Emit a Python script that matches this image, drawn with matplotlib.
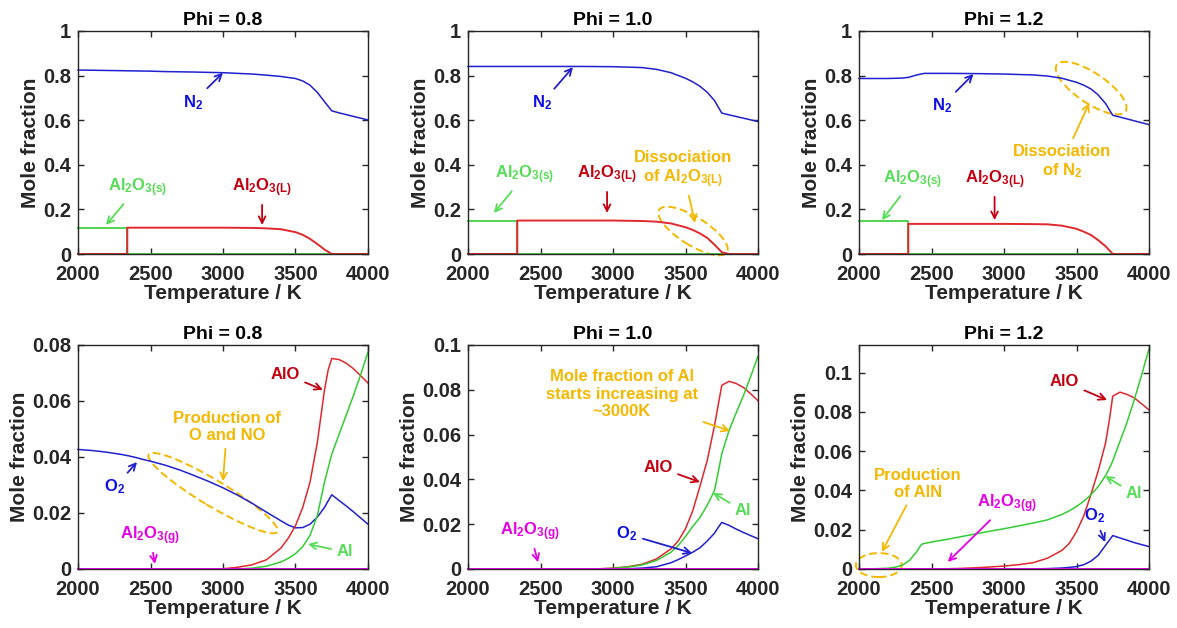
import matplotlib
matplotlib.use("Agg")
import matplotlib.pyplot as plt
from matplotlib.patches import Ellipse
from matplotlib.transforms import ScaledTranslation
from matplotlib.ticker import FormatStrFormatter

plt.rcParams['font.family'] = ['Liberation Sans', 'DejaVu Sans']
plt.rcParams['font.weight'] = 'bold'
plt.rcParams['mathtext.fontset'] = 'custom'
plt.rcParams['mathtext.rm'] = 'Liberation Sans:bold'
plt.rcParams['mathtext.it'] = 'Liberation Sans:bold'
plt.rcParams['mathtext.bf'] = 'Liberation Sans:bold'

# ---------------- data: top row (major species) ----------------
T_top = [2000, 2100, 2200, 2300, 2340, 2340, 2400, 2450, 2500, 2600, 2800, 3000,
         3200, 3300, 3400, 3500, 3550, 3600, 3650, 3700, 3750, 3800, 3900, 4000]

n2_08 = [0.825, 0.824, 0.823, 0.822, 0.8215, 0.8215, 0.821, 0.8205, 0.820, 0.818, 0.816, 0.813,
         0.807, 0.802, 0.796, 0.787, 0.776, 0.757, 0.725, 0.683, 0.642, 0.633, 0.617, 0.601]
al2o3s_08 = [0.118, 0.118, 0.118, 0.118, 0.118, 0, 0, 0, 0, 0, 0, 0,
             0, 0, 0, 0, 0, 0, 0, 0, 0, 0, 0, 0]
al2o3l_08 = [0, 0, 0, 0, 0, 0.118, 0.118, 0.118, 0.118, 0.118, 0.118, 0.118,
             0.117, 0.115, 0.111, 0.098, 0.086, 0.068, 0.045, 0.02, 0, 0, 0, 0]

n2_10 = [0.841, 0.841, 0.841, 0.841, 0.841, 0.841, 0.841, 0.841, 0.841, 0.841, 0.841, 0.840,
         0.836, 0.828, 0.813, 0.788, 0.772, 0.752, 0.725, 0.688, 0.632, 0.624, 0.609, 0.594]
al2o3s_10 = [0.150, 0.150, 0.150, 0.150, 0.150, 0, 0, 0, 0, 0, 0, 0,
             0, 0, 0, 0, 0, 0, 0, 0, 0, 0, 0, 0]
al2o3l_10 = [0, 0, 0, 0, 0, 0.150, 0.150, 0.150, 0.150, 0.150, 0.150, 0.150,
             0.148, 0.145, 0.137, 0.120, 0.108, 0.092, 0.072, 0.042, 0.008, 0, 0, 0]

n2_12 = [0.787, 0.787, 0.787, 0.789, 0.792, 0.792, 0.803, 0.810, 0.810, 0.810, 0.809, 0.807,
         0.803, 0.798, 0.788, 0.770, 0.757, 0.740, 0.713, 0.675, 0.622, 0.614, 0.597, 0.580]
al2o3s_12 = [0.147, 0.147, 0.147, 0.147, 0.147, 0, 0, 0, 0, 0, 0, 0,
             0, 0, 0, 0, 0, 0, 0, 0, 0, 0, 0, 0]
al2o3l_12 = [0, 0, 0, 0, 0, 0.135, 0.135, 0.135, 0.135, 0.135, 0.135, 0.135,
             0.134, 0.133, 0.127, 0.113, 0.100, 0.085, 0.062, 0.035, 0, 0, 0, 0]

# ---------------- data: bottom row (minor species) ----------------
T_bot = [2000, 2100, 2200, 2250, 2300, 2350, 2400, 2430, 2450, 2500, 2600, 2700, 2800, 2900,
         3000, 3100, 3200, 3300, 3400, 3450, 3500, 3550, 3600, 3650, 3700, 3725, 3750,
         3800, 3850, 3900, 3950, 4000]

o2_08 = [0.0427, 0.0423, 0.0417, 0.0413, 0.0409, 0.0404, 0.0398, 0.0394, 0.0391, 0.0385,
         0.0371, 0.0354, 0.0334, 0.0313, 0.0290, 0.0264, 0.0235, 0.0203, 0.0172, 0.0157,
         0.0147, 0.0148, 0.0160, 0.0185, 0.0220, 0.0243, 0.0265, 0.0245, 0.0225, 0.0204,
         0.0182, 0.0160]
alo_08 = [0, 0, 0, 0, 0, 0, 0, 0, 0, 0, 0, 0, 0, 0,
          0.0001, 0.0006, 0.0015, 0.0033, 0.0075, 0.011, 0.0155, 0.022, 0.031, 0.045,
          0.064, 0.071, 0.0752, 0.0748, 0.0735, 0.0715, 0.069, 0.0664]
al_08 = [0, 0, 0, 0, 0, 0, 0, 0, 0, 0, 0, 0, 0, 0,
         0, 0, 0.0003, 0.001, 0.0025, 0.0038, 0.0055, 0.008, 0.012, 0.019,
         0.031, 0.036, 0.041, 0.048, 0.055, 0.062, 0.0695, 0.0775]
al2o3g_08 = [0] * 32

o2_10 = [0, 0, 0, 0, 0, 0, 0, 0, 0, 0, 0, 0, 0, 0,
         0, 0.0001, 0.0004, 0.001, 0.0028, 0.0042, 0.0058, 0.0075, 0.0095, 0.0125,
         0.016, 0.0185, 0.0208, 0.0195, 0.0178, 0.0163, 0.0149, 0.0135]
alo_10 = [0, 0, 0, 0, 0, 0, 0, 0, 0, 0, 0, 0, 0, 0.0001,
          0.0004, 0.001, 0.0021, 0.0045, 0.009, 0.0125, 0.018, 0.026, 0.037, 0.0485,
          0.064, 0.073, 0.082, 0.0838, 0.0828, 0.081, 0.0782, 0.0751]
al_10 = [0, 0, 0, 0, 0, 0, 0, 0, 0, 0, 0, 0, 0, 0,
         0.0003, 0.0008, 0.0018, 0.0038, 0.0075, 0.0105, 0.0145, 0.019, 0.023, 0.0285,
         0.035, 0.043, 0.0514, 0.0618, 0.0698, 0.0775, 0.086, 0.095]
al2o3g_10 = [0] * 32

o2_12 = [0, 0, 0, 0, 0, 0, 0, 0, 0, 0, 0, 0, 0, 0,
         0, 0, 0, 0.0002, 0.0005, 0.0008, 0.0012, 0.0022, 0.004, 0.007,
         0.012, 0.0145, 0.017, 0.0158, 0.0146, 0.0134, 0.0124, 0.0114]
alo_12 = [0, 0, 0, 0, 0, 0, 0, 0, 0, 0, 0.0001, 0.0003, 0.0006, 0.001,
          0.0015, 0.0022, 0.0032, 0.0055, 0.0095, 0.013, 0.019, 0.027, 0.038, 0.050,
          0.064, 0.075, 0.088, 0.0900, 0.0888, 0.087, 0.084, 0.081]
al_12 = [0, 0.0001, 0.0004, 0.0009, 0.002, 0.0045, 0.009, 0.0125, 0.013, 0.0137,
         0.015, 0.0164, 0.0178, 0.0192, 0.0205, 0.0219, 0.0234, 0.025, 0.0278, 0.0296,
         0.0318, 0.0345, 0.0378, 0.042, 0.0475, 0.051, 0.055, 0.065, 0.075, 0.0865,
         0.099, 0.112]
al2o3g_12 = [0] * 32

phis = ['0.8', '1.0', '1.2']
top_ymax = [1, 1, 1]
bot_ymax = [0.08, 0.1, 0.114]
bot_yticks = [[0, 0.02, 0.04, 0.06, 0.08], [0, 0.02, 0.04, 0.06, 0.08, 0.1],
              [0, 0.02, 0.04, 0.06, 0.08, 0.1]]

# ---------------- colours ----------------
BLUE = '#2020d0'
BLUE_T = '#1010e6'
RED = '#e0282d'
RED_T = '#c40010'
GREEN = '#33cc33'
GREEN_T = '#55dd55'
MAG = '#ff00ff'
MAG_T = '#e600e6'
GOLD = '#f5b800'
DARK = '#262626'

S = r'Al$_2$O$_{3(s)}$'
L = r'Al$_2$O$_{3(L)}$'
G = r'Al$_2$O$_{3(g)}$'

fig = plt.figure(figsize=(11.77, 6.28), dpi=100)
W, H = 1177, 628
lefts = [78, 468, 859]


def style(ax, ymax, yticks, title):
    ax.set_xlim(2000, 4000)
    ax.set_ylim(0, ymax)
    ax.set_xticks([2000, 2500, 3000, 3500, 4000])
    ax.set_yticks(yticks)
    ax.yaxis.set_major_formatter(FormatStrFormatter('%g'))
    ax.tick_params(direction='in', top=True, right=True, length=4, width=1,
                   labelsize=14.5, colors=DARK)
    ax.tick_params(axis='x', pad=8)
    ax.tick_params(axis='y', pad=5)
    for lab in ax.get_xticklabels() + ax.get_yticklabels():
        lab.set_fontweight('bold')
    for sp in ax.spines.values():
        sp.set_color(DARK)
        sp.set_linewidth(1)
    ax.set_xlabel('Temperature / K', fontsize=15, fontweight='bold', color=DARK, labelpad=0)
    ax.set_ylabel('Mole fraction', fontsize=15, fontweight='bold', color=DARK, labelpad=2)
    ax.set_title('Phi = ' + title, fontsize=14, fontweight='bold', color='black', pad=4)


def note(ax, txt, xytext, xy, tc, ac, fs=12):
    ax.annotate(txt, xy=xy, xytext=xytext, ha='center', va='center', fontsize=fs,
                fontweight='bold', color=tc, annotation_clip=False,
                arrowprops=dict(arrowstyle='->', color=ac, lw=1.3, shrinkA=2, shrinkB=0,
                                mutation_scale=12))


def ring(ax, xy, w, h, ang):
    tr = fig.dpi_scale_trans + ScaledTranslation(xy[0], xy[1], ax.transData)
    ax.add_patch(Ellipse((0, 0), w / 100, h / 100, angle=ang, transform=tr, fill=False,
                         ls=(0, (4, 2)), lw=1.4, ec=GOLD, clip_on=False))


top_series = [(n2_08, al2o3s_08, al2o3l_08), (n2_10, al2o3s_10, al2o3l_10),
              (n2_12, al2o3s_12, al2o3l_12)]
bot_series = [(o2_08, alo_08, al_08, al2o3g_08), (o2_10, alo_10, al_10, al2o3g_10),
              (o2_12, alo_12, al_12, al2o3g_12)]

top_axes, bot_axes = [], []
for i in range(3):
    ax = fig.add_axes([lefts[i] / W, (H - 254) / H, 290 / W, 223 / H])
    n2, s, l = top_series[i]
    ax.plot(T_top, s, color=GREEN, lw=1.2, clip_on=False)
    ax.plot(T_top, l, color=RED, lw=1.4, clip_on=False)
    ax.plot(T_top, n2, color=BLUE, lw=1.1, clip_on=False)
    style(ax, top_ymax[i], [0, 0.2, 0.4, 0.6, 0.8, 1], phis[i])
    top_axes.append(ax)

    bx = fig.add_axes([lefts[i] / W, (H - 569) / H, 290 / W, 224 / H])
    o2, alo, al, g = bot_series[i]
    bx.plot(T_bot, o2, color=BLUE, lw=1.1, clip_on=False)
    bx.plot(T_bot, alo, color=RED, lw=1.1, clip_on=False)
    bx.plot(T_bot, al, color=GREEN, lw=1.1, clip_on=False)
    bx.plot(T_bot, g, color=MAG, lw=1.4, clip_on=False)
    style(bx, bot_ymax[i], bot_yticks[i], phis[i])
    bot_axes.append(bx)

# ---------------- annotations: top row ----------------
a = top_axes[0]
note(a, r'N$_2$', (2793, 0.68), (3000, 0.813), BLUE_T, BLUE)
note(a, S, (2407, 0.296), (2193, 0.13), GREEN_T, GREEN_T)
note(a, L, (3269, 0.296), (3270, 0.13), RED_T, RED_T)

a = top_axes[1]
note(a, r'N$_2$', (2510, 0.677), (2724, 0.838), BLUE_T, BLUE)
note(a, S, (2393, 0.354), (2179, 0.184), GREEN_T, GREEN_T)
note(a, L, (2959, 0.354), (2959, 0.184), RED_T, RED_T)
note(a, 'Dissociation\nof ' + L, (3483, 0.377), (3566, 0.139), GOLD, GOLD)
ring(a, (3552, 0.103), 80, 28, -32)

a = top_axes[2]
note(a, r'N$_2$', (2570, 0.664), (2790, 0.807), BLUE_T, BLUE)
note(a, S, (2371, 0.332), (2158, 0.152), GREEN_T, GREEN_T)
note(a, L, (2935, 0.332), (2935, 0.152), RED_T, RED_T)
note(a, 'Dissociation\n' + r'of N$_2$', (3402, 0.413), (3588, 0.677), GOLD, GOLD)
ring(a, (3601, 0.744), 83, 30, -34)

# ---------------- annotations: bottom row ----------------
b = bot_axes[0]
note(b, 'AlO', (3428, 0.0696), (3689, 0.064), RED_T, RED_T)
note(b, 'Production of\nO and NO', (3028, 0.0507), (3000, 0.0314), GOLD, GOLD)
ring(b, (2931, 0.0271), 150, 26, -31)
note(b, r'O$_2$', (2255, 0.0293), (2407, 0.0382), BLUE_T, BLUE)
note(b, G, (2497, 0.0118), (2531, 0.0018), MAG_T, MAG_T)
note(b, 'Al', (3841, 0.0061), (3586, 0.0089), GREEN_T, GREEN_T)

b = bot_axes[1]
note(b, 'Mole fraction of Al\nstarts increasing at\n~3000K', (3062, 0.078), (3807, 0.0616),
     GOLD, GOLD)
note(b, 'AlO', (3310, 0.0455), (3600, 0.0388), RED_T, RED_T)
note(b, 'Al', (3897, 0.0259), (3690, 0.034), GREEN_T, GREEN_T)
note(b, r'O$_2$', (3096, 0.0156), (3545, 0.0071), BLUE_T, BLUE)
note(b, G, (2428, 0.0165), (2483, 0.003), MAG_T, MAG_T)

b = bot_axes[2]
note(b, 'AlO', (3416, 0.0952), (3711, 0.086), RED_T, RED_T)
note(b, 'Al', (3897, 0.0382), (3698, 0.0473), GREEN_T, GREEN_T)
note(b, r'O$_2$', (3622, 0.027), (3698, 0.0137), BLUE_T, BLUE)
note(b, G, (3017, 0.033), (2612, 0.0036), MAG_T, MAG_T)
note(b, 'Production\nof AlN', (2405, 0.0433), (2158, 0.0087), GOLD, GOLD)
ring(b, (2137, 0.002), 46, 24, 0)

fig.savefig('out.png', dpi=100)
